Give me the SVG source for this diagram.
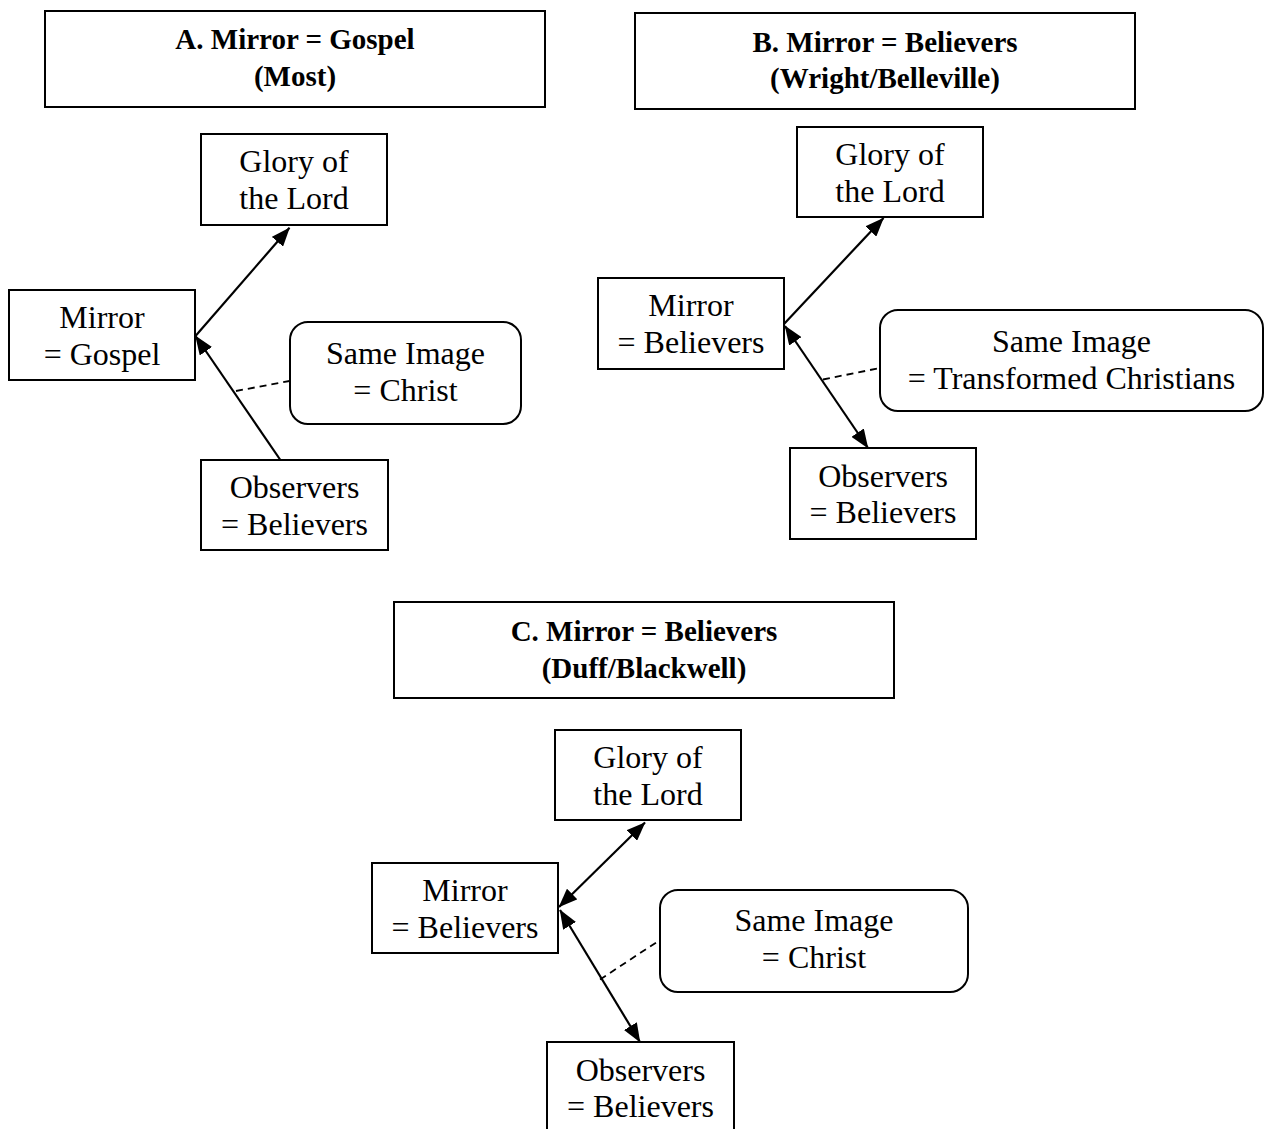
<svg xmlns="http://www.w3.org/2000/svg" width="1270" height="1129" viewBox="0 0 1270 1129">
<style>
  .box { fill: #fff; stroke: #000; stroke-width: 2; }
  .t { font-family: "Liberation Serif", "Times New Roman", serif; font-size: 32px; fill: #000; text-anchor: middle; }
  .h { font-family: "Liberation Serif", "Times New Roman", serif; font-size: 29px; font-weight: bold; fill: #000; text-anchor: middle; }
  .con { fill: none; stroke: #000; stroke-width: 2.2; }
  .dash { fill: none; stroke: #000; stroke-width: 1.8; stroke-dasharray: 7 5; }
</style>
<defs>
  <marker id="arr" viewBox="0 0 19 15" markerUnits="userSpaceOnUse" markerWidth="19" markerHeight="15" refX="18.5" refY="7.5" orient="auto-start-reverse">
    <path d="M0,0 L19,7.5 L0,15 z" fill="#000"/>
  </marker>
</defs>
<rect width="1270" height="1129" fill="#fff"/>

<!-- Panel A -->
<g id="titleA">
  <rect class="box" x="45" y="11" width="500" height="96"/>
  <text class="h" x="295" y="49">A. Mirror = Gospel</text>
  <text class="h" x="295" y="86">(Most)</text>
</g>
<g id="gloryA">
  <rect class="box" x="201" y="134" width="186" height="91"/>
  <text class="t" x="294" y="171.5">Glory of</text>
  <text class="t" x="294" y="209">the Lord</text>
</g>
<g id="mirrorA">
  <rect class="box" x="9" y="290" width="186" height="90"/>
  <text class="t" x="102" y="328">Mirror</text>
  <text class="t" x="102" y="365">= Gospel</text>
</g>
<g id="imageA">
  <rect class="box" x="290" y="322" width="231" height="102" rx="18" ry="18"/>
  <text class="t" x="405.5" y="364">Same Image</text>
  <text class="t" x="405.5" y="401">= Christ</text>
</g>
<g id="observersA">
  <rect class="box" x="201" y="460" width="187" height="90"/>
  <text class="t" x="294.5" y="498">Observers</text>
  <text class="t" x="294.5" y="535">= Believers</text>
</g>

<!-- Panel B -->
<g id="titleB">
  <rect class="box" x="635" y="13" width="500" height="96"/>
  <text class="h" x="885" y="52">B. Mirror = Believers</text>
  <text class="h" x="885" y="88">(Wright/Belleville)</text>
</g>
<g id="gloryB">
  <rect class="box" x="797" y="127" width="186" height="90"/>
  <text class="t" x="890" y="164.5">Glory of</text>
  <text class="t" x="890" y="202">the Lord</text>
</g>
<g id="mirrorB">
  <rect class="box" x="598" y="278" width="186" height="91"/>
  <text class="t" x="691" y="316">Mirror</text>
  <text class="t" x="691" y="353">= Believers</text>
</g>
<g id="imageB">
  <rect class="box" x="880" y="310" width="383" height="101" rx="18" ry="18"/>
  <text class="t" x="1071.5" y="352">Same Image</text>
  <text class="t" x="1071.5" y="389">= Transformed Christians</text>
</g>
<g id="observersB">
  <rect class="box" x="790" y="448" width="186" height="91"/>
  <text class="t" x="883" y="486.5">Observers</text>
  <text class="t" x="883" y="523">= Believers</text>
</g>

<!-- Panel C -->
<g id="titleC">
  <rect class="box" x="394" y="602" width="500" height="96"/>
  <text class="h" x="644" y="641">C. Mirror = Believers</text>
  <text class="h" x="644" y="678">(Duff/Blackwell)</text>
</g>
<g id="gloryC">
  <rect class="box" x="555" y="730" width="186" height="90"/>
  <text class="t" x="648" y="767.5">Glory of</text>
  <text class="t" x="648" y="805">the Lord</text>
</g>
<g id="mirrorC">
  <rect class="box" x="372" y="863" width="186" height="90"/>
  <text class="t" x="465" y="901">Mirror</text>
  <text class="t" x="465" y="938">= Believers</text>
</g>
<g id="imageC">
  <rect class="box" x="660" y="890" width="308" height="102" rx="18" ry="18"/>
  <text class="t" x="814" y="931">Same Image</text>
  <text class="t" x="814" y="968">= Christ</text>
</g>
<g id="observersC">
  <rect class="box" x="547" y="1042" width="187" height="91"/>
  <text class="t" x="640.5" y="1080.5">Observers</text>
  <text class="t" x="640.5" y="1117">= Believers</text>
</g>

<!-- Connectors -->
<g id="connectors">
  <path class="con" d="M195.7,335.7 L289.5,227.8" marker-end="url(#arr)"/>
  <path class="con" d="M280.4,460 L195.5,336" marker-end="url(#arr)"/>
  <path class="dash" d="M236,391 L289.5,381"/>

  <path class="con" d="M784,324 L883.5,218" marker-end="url(#arr)"/>
  <path class="con" d="M785,326 L868,448" marker-start="url(#arr)" marker-end="url(#arr)"/>
  <path class="dash" d="M823,379.5 L880,368"/>

  <path class="con" d="M559,907 L645,822.5" marker-start="url(#arr)" marker-end="url(#arr)"/>
  <path class="con" d="M560,910 L640,1042" marker-start="url(#arr)" marker-end="url(#arr)"/>
  <path class="dash" d="M600,979.5 L660,940"/>
</g>
</svg>
